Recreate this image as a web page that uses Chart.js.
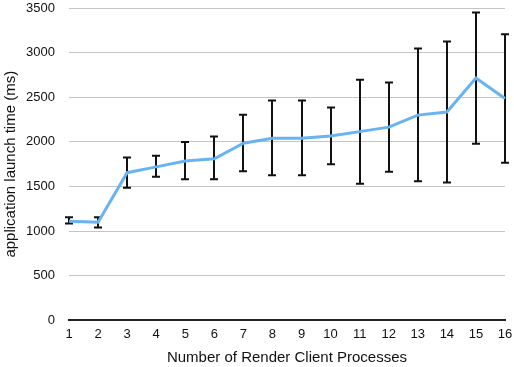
<!DOCTYPE html>
<html>
<head>
    <title>Application launch time</title>
    <style>
        body { margin: 0; background: #fff; }
        #chartId { display: block; }
    </style>
</head>
<body>
    <canvas id="chartId" width="514" height="367"></canvas>

    <script src="https://cdn.jsdelivr.net/npm/chart.js@4.4.0/dist/chart.umd.min.js"></script>
    <script>
        // values
        var processes = [1, 2, 3, 4, 5, 6, 7, 8, 9, 10, 11, 12, 13, 14, 15, 16];
        var launchTime = [1110, 1100, 1655, 1720, 1785, 1810, 1985, 2040, 2040, 2065, 2115, 2165, 2300, 2335, 2715, 2485];
        var errHigh = [1155, 1155, 1825, 1845, 2000, 2060, 2305, 2465, 2465, 2385, 2695, 2665, 3045, 3125, 3450, 3205];
        var errLow = [1085, 1040, 1485, 1610, 1580, 1580, 1670, 1625, 1625, 1750, 1530, 1665, 1560, 1545, 1980, 1765];

        var points = processes.map(function (p, i) { return { x: p, y: launchTime[i] }; });

        // draws the black error bars behind the line
        var errorBars = {
            id: 'errorBars',
            beforeDatasetsDraw: function (chart) {
                var ctx = chart.ctx;
                var xs = chart.scales.x, ys = chart.scales.y;
                ctx.save();
                ctx.strokeStyle = '#111';
                ctx.lineWidth = 2;
                processes.forEach(function (p, i) {
                    var px = Math.round(xs.getPixelForValue(p));
                    var top = ys.getPixelForValue(errHigh[i]);
                    var bot = ys.getPixelForValue(errLow[i]);
                    ctx.beginPath();
                    ctx.moveTo(px, top); ctx.lineTo(px, bot);
                    ctx.moveTo(px - 4, top); ctx.lineTo(px + 4, top);
                    ctx.moveTo(px - 4, bot); ctx.lineTo(px + 4, bot);
                    ctx.stroke();
                });
                ctx.restore();
            }
        };

        var chrt = document.getElementById("chartId").getContext("2d");
        var chartId = new Chart(chrt, {
            type: 'line',
            data: {
                datasets: [{
                    label: 'launch time',
                    data: points,
                    borderColor: '#68b3f2',
                    borderWidth: 3,
                    pointRadius: 0,
                    tension: 0,
                    clip: false
                }]
            },
            options: {
                responsive: false,
                animation: false,
                layout: { padding: { top: 8, right: 9, left: 0, bottom: 0 } },
                scales: {
                    x: {
                        type: 'linear',
                        min: 1,
                        max: 16,
                        afterFit: function (scale) {
                            scale.paddingLeft = 0;
                            scale.paddingRight = 0;
                        },
                        grid: { display: false, drawTicks: false },
                        border: { display: true, color: '#222', width: 2 },
                        ticks: { stepSize: 1, color: '#111', padding: 6, font: { family: 'Liberation Sans', size: 13 }, maxRotation: 0 },
                        title: { display: true, text: 'Number of Render Client Processes', color: '#111', font: { family: 'Liberation Sans', size: 15 }, padding: { top: 1, bottom: 0 } }
                    },
                    y: {
                        min: 0,
                        max: 3500,
                        afterFit: function (scale) {
                            scale.width = 69;
                            scale.paddingTop = 0;
                            scale.paddingBottom = 0;
                        },
                        grid: { color: '#c4c4c4', lineWidth: 1, drawTicks: false },
                        border: { display: false },
                        ticks: {
                            stepSize: 500, color: '#111', padding: 14, font: { family: 'Liberation Sans', size: 13 },
                            callback: function (v) { return String(v); }
                        },
                        title: { display: true, text: 'application launch time (ms)', color: '#111', font: { family: 'Liberation Sans', size: 15 }, padding: { top: 2, bottom: 0 } }
                    }
                },
                plugins: {
                    legend: { display: false },
                    tooltip: { enabled: false }
                }
            },
            plugins: [errorBars]
        });
    </script>
</body>
</html>
